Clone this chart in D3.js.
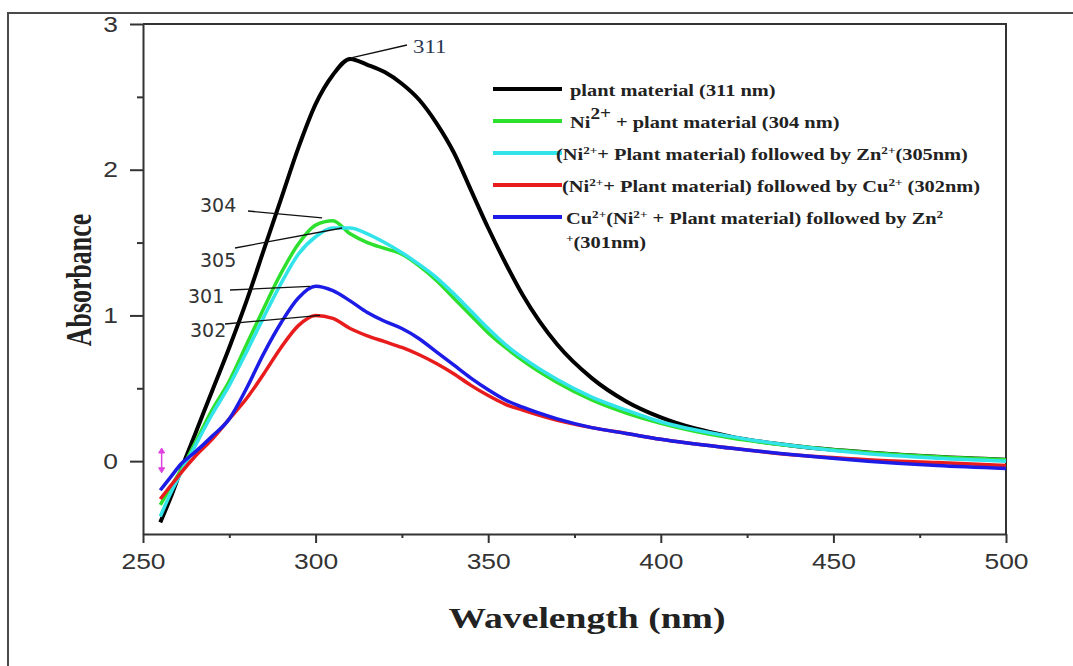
<!DOCTYPE html>
<html>
<head>
<meta charset="utf-8">
<script src="https://cdn.jsdelivr.net/npm/d3@7"></script>
<style>
  body { margin: 0; background: #fff; }
  svg { display: block; }
</style>
</head>
<body>
<div id="chart"></div>
<script>
// wavelength grid (nm) shared by all spectra
var wavelengths = [255, 258, 261, 265, 270, 275, 280, 285, 290, 295, 300, 305, 310, 315, 320, 325,
                   330, 335, 340, 345, 350, 355, 360, 370, 380, 390, 400, 420, 440, 460, 480, 500];

var plant     = [-0.42, -0.25, -0.06, 0.18, 0.48, 0.78, 1.10, 1.45, 1.80, 2.15, 2.45, 2.65, 2.76, 2.72, 2.67, 2.59,
                 2.48, 2.32, 2.12, 1.86, 1.60, 1.36, 1.14, 0.80, 0.57, 0.41, 0.30, 0.17, 0.10, 0.06, 0.03, 0.01];
var niPlant   = [-0.30, -0.18, -0.06, 0.12, 0.35, 0.55, 0.80, 1.05, 1.29, 1.49, 1.62, 1.65, 1.56, 1.50, 1.46, 1.42,
                 1.34, 1.24, 1.12, 1.00, 0.88, 0.78, 0.69, 0.54, 0.42, 0.33, 0.26, 0.16, 0.10, 0.06, 0.03, 0.01];
var niPlantZn = [-0.38, -0.22, -0.08, 0.10, 0.32, 0.52, 0.75, 0.99, 1.22, 1.42, 1.54, 1.60, 1.60, 1.56, 1.50, 1.43,
                 1.35, 1.26, 1.15, 1.03, 0.91, 0.80, 0.71, 0.56, 0.44, 0.35, 0.27, 0.17, 0.10, 0.05, 0.02, 0.00];
var niPlantCu = [-0.26, -0.17, -0.08, 0.03, 0.15, 0.29, 0.43, 0.60, 0.78, 0.93, 1.00, 0.98, 0.91, 0.86, 0.82, 0.78,
                 0.73, 0.67, 0.60, 0.52, 0.45, 0.39, 0.35, 0.28, 0.23, 0.19, 0.15, 0.09, 0.04, 0.01, -0.01, -0.03];
var cuNiZn    = [-0.20, -0.11, -0.02, 0.06, 0.17, 0.29, 0.50, 0.74, 0.95, 1.12, 1.20, 1.17, 1.10, 1.02, 0.96, 0.91,
                 0.84, 0.75, 0.66, 0.57, 0.49, 0.42, 0.37, 0.29, 0.23, 0.19, 0.15, 0.09, 0.04, 0.00, -0.03, -0.05];

var seriesColors = ["#000000", "#2ee02e", "#33e3ea", "#e81c1c", "#1c1ce6"];

var xTicks = [250, 300, 350, 400, 450, 500];
var xMinorTicks = [275, 325, 375, 425, 475];
var yTicks = [0, 1, 2, 3];
var yMinorTicks = [0.5, 1.5, 2.5];

// peak annotations
var peakLabels = ["311", "304", "305", "301", "302"];
var peakWavelengths = [310.6, 301.9, 307.7, 298.4, 301.3];
var peakValues = [2.77, 1.67, 1.60, 1.20, 1.00];

var width = 1073, height = 666;

var svg = d3.select("#chart")
            .append("svg")
            .attr("width", width)
            .attr("height", height);

svg.append("rect").attr("width", width).attr("height", height).style("fill", "#fff");

var x = d3.scaleLinear().domain([250, 500]).range([143, 1006]);
var y = d3.scaleLinear().domain([-0.5, 3]).range([534, 24]);

// outer frame (left and top edges of the figure box)
svg.append("path")
   .attr("d", "M8,666V13H1073")
   .style("fill", "none")
   .style("stroke", "#4a4a4a")
   .style("stroke-width", 2);

// plot box top and right
svg.append("path")
   .attr("d", "M" + x(250) + "," + y(3) + "H" + x(500) + "V" + y(-0.5))
   .style("fill", "none")
   .style("stroke", "#333")
   .style("stroke-width", 2);

// x axis
var xAxis = svg.append("g")
   .attr("transform", "translate(0," + y(-0.5) + ")")
   .call(d3.axisBottom(x).tickValues(xTicks).tickSize(9).tickSizeOuter(0).tickPadding(10));
svg.append("g")
   .attr("transform", "translate(0," + y(-0.5) + ")")
   .call(d3.axisBottom(x).tickValues(xMinorTicks).tickSize(4).tickSizeOuter(0).tickFormat(""))
   .select(".domain").remove();
xAxis.selectAll("text")
     .attr("transform", "scale(1.2,1)")
     .style("font-family", "'Liberation Sans', Arial, sans-serif")
     .style("font-size", "22px")
     .style("fill", "#333");

// y axis
var yAxis = svg.append("g")
   .attr("transform", "translate(" + x(250) + ",0)")
   .call(d3.axisLeft(y).tickValues(yTicks).tickFormat(d3.format("d")).tickSize(13).tickSizeOuter(0));
svg.append("g")
   .attr("transform", "translate(" + x(250) + ",0)")
   .call(d3.axisLeft(y).tickValues(yMinorTicks).tickSize(6).tickSizeOuter(0).tickFormat(""))
   .select(".domain").remove();
yAxis.selectAll("text")
     .attr("x", 0)
     .attr("transform", "translate(-25,0) scale(1.2,1)")
     .style("font-family", "'Liberation Sans', Arial, sans-serif")
     .style("font-size", "22px")
     .style("fill", "#333");

svg.selectAll(".domain, .tick line")
   .style("stroke", "#333")
   .style("stroke-width", 2);

// axis titles
svg.append("text")
   .attr("transform", "translate(91,280) rotate(-90) scale(0.72,1)")
   .attr("text-anchor", "middle")
   .style("font-family", "'Liberation Serif', 'Times New Roman', serif")
   .style("font-weight", "bold")
   .style("font-size", "36px")
   .style("fill", "#222")
   .text("Absorbance");

svg.append("text")
   .attr("x", 587)
   .attr("y", 628)
   .attr("text-anchor", "middle")
   .attr("textLength", 277)
   .attr("lengthAdjust", "spacingAndGlyphs")
   .style("font-family", "'Liberation Serif', 'Times New Roman', serif")
   .style("font-weight", "bold")
   .style("font-size", "29px")
   .style("fill", "#222")
   .text("Wavelength  (nm)");

// spectra
var allSeries = [plant, niPlant, niPlantZn, niPlantCu, cuNiZn];

var line = d3.line()
    .x(function(d, i) { return x(wavelengths[i]); })
    .y(function(d) { return y(d); })
    .curve(d3.curveMonotoneX);

svg.selectAll("path.spectrum")
   .data(allSeries)
   .enter()
   .append("path")
   .attr("class", "spectrum")
   .attr("d", line)
   .style("fill", "none")
   .style("stroke", function(d, i) { return seriesColors[i]; })
   .style("stroke-width", function(d, i) { return i == 0 ? 4 : 3.5; })
   .style("stroke-linejoin", "round");

// small magenta double arrow near the start of the curves
var arrowX = x(255.4);
svg.append("path")
   .attr("d", "M" + arrowX + "," + (y(0.09) + 3) + "V" + (y(-0.08) - 3))
   .style("stroke", "#e040e0")
   .style("stroke-width", 1.5);
svg.append("path")
   .attr("d", "M" + (arrowX - 3) + "," + (y(0.09) + 5) + "L" + arrowX + "," + y(0.09) + "L" + (arrowX + 3) + "," + (y(0.09) + 5) + "Z" +
              "M" + (arrowX - 3) + "," + (y(-0.08) - 5) + "L" + arrowX + "," + y(-0.08) + "L" + (arrowX + 3) + "," + (y(-0.08) - 5) + "Z")
   .style("fill", "#e040e0")
   .style("stroke", "#e040e0");

// peak annotation leaders and labels
var labelAnchors = [[407, 45], [248, 211], [235, 248], [230, 290], [225, 324]];
var labelPos = [[413, 53], [200, 212], [200, 267], [188, 303], [190, 337]];

svg.selectAll("line.leader")
   .data(peakLabels)
   .enter()
   .append("line")
   .attr("class", "leader")
   .attr("x1", function(d, i) { return labelAnchors[i][0]; })
   .attr("y1", function(d, i) { return labelAnchors[i][1]; })
   .attr("x2", function(d, i) { return x(peakWavelengths[i]); })
   .attr("y2", function(d, i) { return y(peakValues[i]); })
   .style("stroke", "#111")
   .style("stroke-width", 1.3);

svg.selectAll("text.peak")
   .data(peakLabels)
   .enter()
   .append("text")
   .attr("class", "peak")
   .attr("transform", function(d, i) {
       return "translate(" + labelPos[i][0] + "," + labelPos[i][1] + ")" + (i == 0 ? " scale(1.2,1)" : "");
   })
   .style("font-family", function(d, i) { return i == 0 ? "'Liberation Serif', serif" : "'DejaVu Sans', sans-serif"; })
   .style("font-size", "19px")
   .style("fill", function(d, i) { return i == 0 ? "#2b3650" : "#333"; })
   .text(function(d) { return d; });

// legend
var legendRows = [
    [{t: "plant material (311 nm)"}],
    [{t: "Ni"}, {t: "2+", big: true}, {t: " + plant material (304 nm)"}],
    [{t: "(Ni"}, {t: "2+", sup: true}, {t: "+ Plant material) followed by Zn"}, {t: "2+", sup: true}, {t: "(305nm)"}],
    [{t: "(Ni"}, {t: "2+", sup: true}, {t: "+ Plant material) followed by Cu"}, {t: "2+", sup: true}, {t: " (302nm)"}],
    [{t: "Cu"}, {t: "2+", sup: true}, {t: "(Ni"}, {t: "2+", sup: true}, {t: " + Plant material) followed by Zn"}, {t: "2", sup: true}]
];
var legendY = [89, 121, 153, 185, 217];
var legendTextX = [570, 570, 556, 562, 566];

var legend = svg.append("g");

legend.selectAll("line")
      .data(legendRows)
      .enter()
      .append("line")
      .attr("x1", 493)
      .attr("x2", 562)
      .attr("y1", function(d, i) { return legendY[i]; })
      .attr("y2", function(d, i) { return legendY[i]; })
      .style("stroke", function(d, i) { return seriesColors[i]; })
      .style("stroke-width", 4);

legendRows.forEach(function(parts, i) {
    var t = legend.append("text")
                  .attr("transform", "translate(" + legendTextX[i] + "," + (legendY[i] + 7) + ") scale(1.2,1)")
                  .style("font-family", "'Liberation Serif', 'Times New Roman', serif")
                  .style("font-weight", "bold")
                  .style("font-size", "17px")
                  .style("fill", "#222");
    var shift = 0;
    parts.forEach(function(p) {
        var s = t.append("tspan").text(p.t);
        var target = p.sup ? -6 : (p.big ? -9 : 0);
        s.attr("dy", target - shift);
        if (p.sup) s.style("font-size", "11px");
        if (p.big) s.style("font-size", "16px");
        shift = target;
    });
});

// wrapped tail of the last legend entry
var tail = legend.append("text")
                 .attr("transform", "translate(566,248) scale(1.2,1)")
                 .style("font-family", "'Liberation Serif', 'Times New Roman', serif")
                 .style("font-weight", "bold")
                 .style("font-size", "17px")
                 .style("fill", "#222");
tail.append("tspan").attr("dy", -6).style("font-size", "11px").text("+");
tail.append("tspan").attr("dy", 6).text("(301nm)");
</script>
</body>
</html>
